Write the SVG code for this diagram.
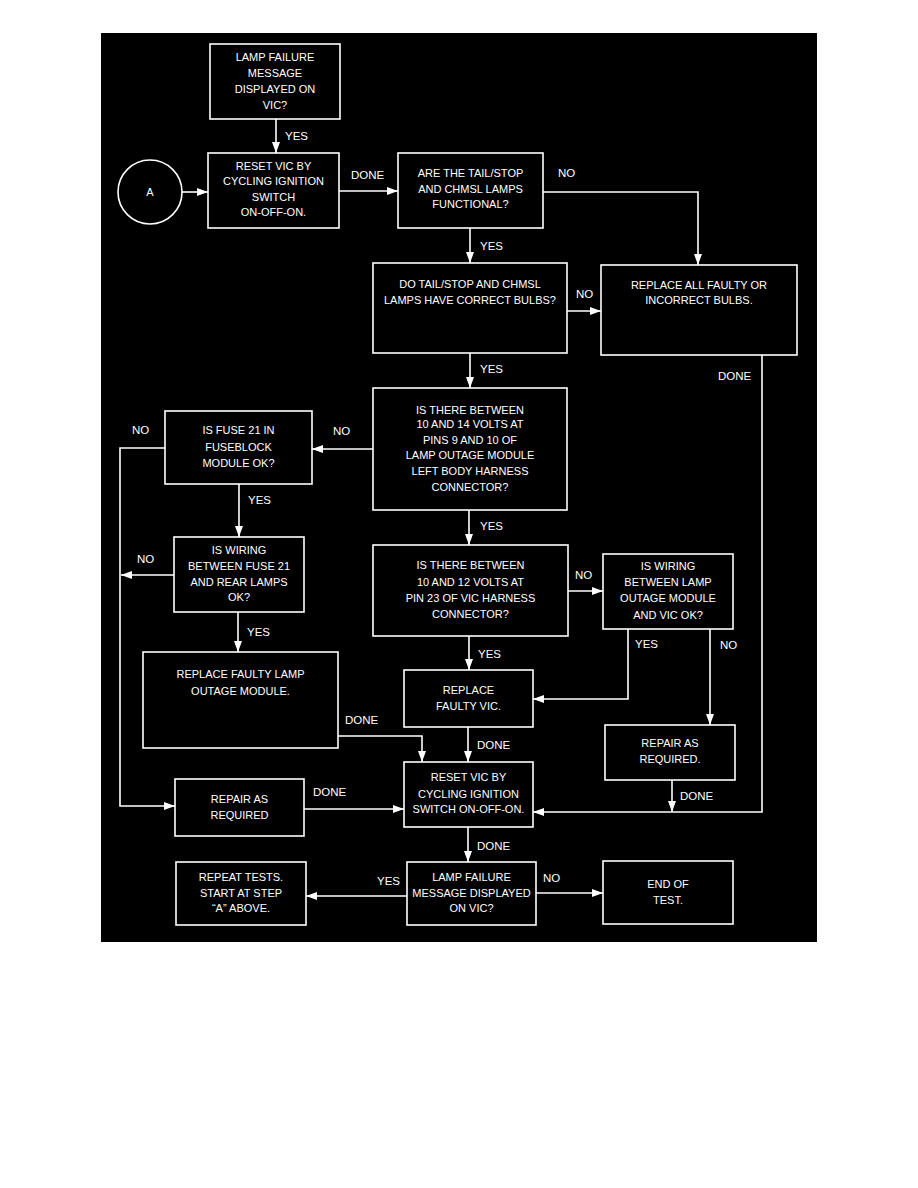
<svg xmlns="http://www.w3.org/2000/svg" width="918" height="1188" viewBox="0 0 918 1188">
<style>
.bx{fill:#000;stroke:#fff;stroke-width:1.6}
.t{font-family:"Liberation Sans",Arial,sans-serif;font-size:11px;fill:#fff;text-anchor:middle}
.l{font-family:"Liberation Sans",Arial,sans-serif;font-size:11.5px;fill:#fff}
.c{fill:none;stroke:#fff;stroke-width:1.6}
</style>
<defs>
<marker id="ah" markerUnits="userSpaceOnUse" markerWidth="11" markerHeight="8" refX="11" refY="4" orient="auto">
<path d="M0,0 L11,4 L0,8 z" fill="#fff"/>
</marker>
</defs>
<rect x="0" y="0" width="918" height="1188" fill="#fff"/>
<rect x="101" y="33" width="716" height="909" fill="#000"/>

<g id="connectors">
<path class="c" d="M276,119 V153" marker-end="url(#ah)"/>
<path class="c" d="M182,192 H208" marker-end="url(#ah)"/>
<path class="c" d="M339,191 H398" marker-end="url(#ah)"/>
<path class="c" d="M543,192 H698 V265" marker-end="url(#ah)"/>
<path class="c" d="M470,228 V263" marker-end="url(#ah)"/>
<path class="c" d="M567,311 H601" marker-end="url(#ah)"/>
<path class="c" d="M470,353 V388" marker-end="url(#ah)"/>
<path class="c" d="M762,355 V812 H533" marker-end="url(#ah)"/>
<path class="c" d="M373,449 H312" marker-end="url(#ah)"/>
<path class="c" d="M165,448 H120 V806 H175" marker-end="url(#ah)"/>
<path class="c" d="M174,575 H121" marker-end="url(#ah)"/>
<path class="c" d="M239,484 V537" marker-end="url(#ah)"/>
<path class="c" d="M238,612 V652" marker-end="url(#ah)"/>
<path class="c" d="M338,736 H422 V762" marker-end="url(#ah)"/>
<path class="c" d="M304,809 H404" marker-end="url(#ah)"/>
<path class="c" d="M469,510 V545" marker-end="url(#ah)"/>
<path class="c" d="M568,591 H603" marker-end="url(#ah)"/>
<path class="c" d="M469,636 V670" marker-end="url(#ah)"/>
<path class="c" d="M628,629 V699 H533" marker-end="url(#ah)"/>
<path class="c" d="M710,629 V725" marker-end="url(#ah)"/>
<path class="c" d="M672,780 V812" marker-end="url(#ah)"/>
<path class="c" d="M468,727 V762" marker-end="url(#ah)"/>
<path class="c" d="M468,827 V862" marker-end="url(#ah)"/>
<path class="c" d="M407,896 H306" marker-end="url(#ah)"/>
<path class="c" d="M536,893 H603" marker-end="url(#ah)"/>
<text class="l" x="285" y="140">YES</text>
<text class="l" x="351" y="179">DONE</text>
<text class="l" x="558" y="177">NO</text>
<text class="l" x="480" y="250">YES</text>
<text class="l" x="576" y="298">NO</text>
<text class="l" x="480" y="373">YES</text>
<text class="l" x="718" y="380">DONE</text>
<text class="l" x="333" y="435">NO</text>
<text class="l" x="132" y="434">NO</text>
<text class="l" x="248" y="504">YES</text>
<text class="l" x="137" y="563">NO</text>
<text class="l" x="247" y="636">YES</text>
<text class="l" x="480" y="530">YES</text>
<text class="l" x="575" y="579">NO</text>
<text class="l" x="478" y="658">YES</text>
<text class="l" x="635" y="648">YES</text>
<text class="l" x="720" y="649">NO</text>
<text class="l" x="477" y="749">DONE</text>
<text class="l" x="680" y="800">DONE</text>
<text class="l" x="345" y="724">DONE</text>
<text class="l" x="313" y="796">DONE</text>
<text class="l" x="477" y="850">DONE</text>
<text class="l" x="377" y="885">YES</text>
<text class="l" x="543" y="882">NO</text>
</g>

<g id="n1"><rect class="bx" x="210" y="44" width="130" height="75"/>
<text class="t" x="275" y="61">LAMP FAILURE</text><text class="t" x="275" y="77">MESSAGE</text><text class="t" x="275" y="93">DISPLAYED ON</text><text class="t" x="275" y="109">VIC?</text></g>

<g id="nA"><circle cx="150" cy="192" r="32" fill="#000" stroke="#fff" stroke-width="1.6"/>
<text class="t" x="150" y="196">A</text></g>

<g id="n2"><rect class="bx" x="208" y="153" width="131" height="75"/>
<text class="t" x="273.5" y="170">RESET VIC BY</text><text class="t" x="273.5" y="185">CYCLING IGNITION</text><text class="t" x="273.5" y="200.5">SWITCH</text><text class="t" x="273.5" y="215.5">ON-OFF-ON.</text></g>

<g id="n3"><rect class="bx" x="398" y="153" width="145" height="75"/>
<text class="t" x="470.5" y="177">ARE THE TAIL/STOP</text><text class="t" x="470.5" y="193">AND CHMSL LAMPS</text><text class="t" x="470.5" y="208">FUNCTIONAL?</text></g>

<g id="n4"><rect class="bx" x="373" y="263" width="194" height="90"/>
<text class="t" x="470" y="288">DO TAIL/STOP AND CHMSL</text><text class="t" x="470" y="303.5">LAMPS HAVE CORRECT BULBS?</text></g>

<g id="n5"><rect class="bx" x="601" y="265" width="196" height="90"/>
<text class="t" x="699" y="288.5">REPLACE ALL FAULTY OR</text><text class="t" x="699" y="304">INCORRECT BULBS.</text></g>

<g id="n6"><rect class="bx" x="373" y="388" width="194" height="122"/>
<text class="t" x="470" y="413.5">IS THERE BETWEEN</text><text class="t" x="470" y="428">10 AND 14 VOLTS AT</text><text class="t" x="470" y="443.5">PINS 9 AND 10 OF</text><text class="t" x="470" y="459">LAMP OUTAGE MODULE</text><text class="t" x="470" y="475">LEFT BODY HARNESS</text><text class="t" x="470" y="491">CONNECTOR?</text></g>

<g id="n7"><rect class="bx" x="165" y="411" width="147" height="73"/>
<text class="t" x="238.5" y="434">IS FUSE 21 IN</text><text class="t" x="238.5" y="450.5">FUSEBLOCK</text><text class="t" x="238.5" y="467">MODULE OK?</text></g>

<g id="n8"><rect class="bx" x="174" y="537" width="130" height="75"/>
<text class="t" x="239" y="554">IS WIRING</text><text class="t" x="239" y="570">BETWEEN FUSE 21</text><text class="t" x="239" y="585.5">AND REAR LAMPS</text><text class="t" x="239" y="601">OK?</text></g>

<g id="n9"><rect class="bx" x="143" y="652" width="195" height="96"/>
<text class="t" x="240.5" y="678">REPLACE FAULTY LAMP</text><text class="t" x="240.5" y="695">OUTAGE MODULE.</text></g>

<g id="n10"><rect class="bx" x="373" y="545" width="195" height="91"/>
<text class="t" x="470.5" y="569">IS THERE BETWEEN</text><text class="t" x="470.5" y="585.5">10 AND 12 VOLTS AT</text><text class="t" x="470.5" y="601.5">PIN 23 OF VIC HARNESS</text><text class="t" x="470.5" y="618">CONNECTOR?</text></g>

<g id="n11"><rect class="bx" x="603" y="554" width="130" height="75"/>
<text class="t" x="668" y="569.5">IS WIRING</text><text class="t" x="668" y="585.5">BETWEEN LAMP</text><text class="t" x="668" y="602">OUTAGE MODULE</text><text class="t" x="668" y="619">AND VIC OK?</text></g>

<g id="n12"><rect class="bx" x="404" y="670" width="129" height="57"/>
<text class="t" x="468.5" y="694">REPLACE</text><text class="t" x="468.5" y="710">FAULTY VIC.</text></g>

<g id="n13"><rect class="bx" x="605" y="725" width="130" height="55"/>
<text class="t" x="670" y="747">REPAIR AS</text><text class="t" x="670" y="763">REQUIRED.</text></g>

<g id="n14"><rect class="bx" x="404" y="762" width="129" height="65"/>
<text class="t" x="468.5" y="781">RESET VIC BY</text><text class="t" x="468.5" y="798">CYCLING IGNITION</text><text class="t" x="468.5" y="813">SWITCH ON-OFF-ON.</text></g>

<g id="n15"><rect class="bx" x="175" y="779" width="129" height="57"/>
<text class="t" x="239.5" y="803">REPAIR AS</text><text class="t" x="239.5" y="818.5">REQUIRED</text></g>

<g id="n16"><rect class="bx" x="176" y="862" width="130" height="63"/>
<text class="t" x="241" y="881">REPEAT TESTS.</text><text class="t" x="241" y="896.5">START AT STEP</text><text class="t" x="241" y="912">“A” ABOVE.</text></g>

<g id="n17"><rect class="bx" x="407" y="862" width="129" height="63"/>
<text class="t" x="471.5" y="881">LAMP FAILURE</text><text class="t" x="471.5" y="896.5">MESSAGE DISPLAYED</text><text class="t" x="471.5" y="912">ON VIC?</text></g>

<g id="n18"><rect class="bx" x="603" y="861" width="130" height="63"/>
<text class="t" x="668" y="888">END OF</text><text class="t" x="668" y="904">TEST.</text></g>
</svg>
